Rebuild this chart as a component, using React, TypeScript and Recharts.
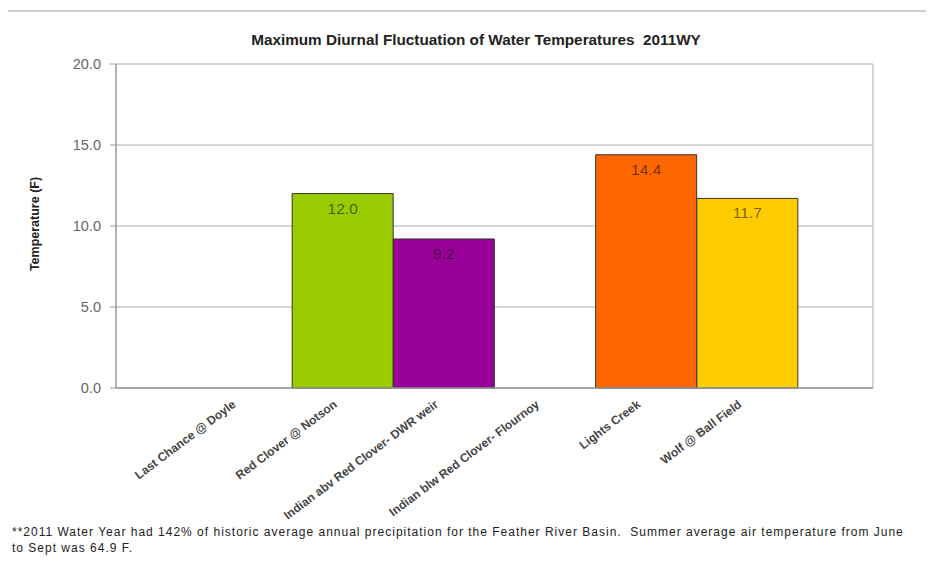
import { Bar, BarChart, CartesianGrid, Cell, LabelList, XAxis, YAxis } from "recharts";

const sites = [
  "Last Chance @ Doyle",
  "Red Clover @ Notson",
  "Indian abv Red Clover- DWR weir",
  "Indian blw Red Clover- Flournoy",
  "Lights Creek",
  "Wolf @ Ball Field"
];
const maxFluctuation: Array<number | null> = [null, 12.0, 9.2, null, 14.4, 11.7];
const barColors = ["#99cc00", "#99cc00", "#990099", "#990099", "#ff6600", "#ffcc00"];
const yTicks = [0, 5, 10, 15, 20];

const data = sites.map((site, i) => ({ site, value: maxFluctuation[i] }));

const font = "'Liberation Sans', Arial, sans-serif";

function SiteTick({ x, y, payload }: any) {
  return (
    <text
      x={x - 5}
      y={y + 10}
      transform={`rotate(-37, ${x - 5}, ${y + 10})`}
      textAnchor="end"
      fontSize={12}
      fontWeight="bold"
      fontFamily={font}
      fill="#444"
    >
      {payload.value}
    </text>
  );
}

export default function App() {
  return (
    <div style={{ position: "relative", width: 934, height: 567, margin: -8, background: "#fff", overflow: "hidden" }}>
      <div
        style={{
          position: "absolute",
          left: 5,
          top: 10,
          width: 960,
          height: 600,
          borderLeft: "2px solid #d0d0d0",
          borderTop: "2px solid #d0d0d0"
        }}
      />
      <div
        style={{
          position: "absolute",
          left: 0,
          width: 952,
          top: 31,
          textAlign: "center",
          fontFamily: font,
          fontWeight: "bold",
          fontSize: 15.3,
          color: "#222"
        }}
      >
        Maximum Diurnal Fluctuation of Water Temperatures&nbsp; 2011WY
      </div>
      <div
        style={{
          position: "absolute",
          left: 35,
          top: 224,
          transform: "translate(-50%, -50%) rotate(-90deg)",
          whiteSpace: "nowrap",
          fontFamily: font,
          fontWeight: "bold",
          fontSize: 12.5,
          color: "#222"
        }}
      >
        Temperature (F)
      </div>
      <div style={{ position: "absolute", left: 0, top: 0 }}>
        <BarChart
          width={934}
          height={567}
          data={data}
          margin={{ top: 64, right: 61, bottom: 79, left: 56 }}
          barCategoryGap={0}
        >
          <CartesianGrid
            stroke="#c8c8c8"
            strokeWidth={1.5}
            verticalCoordinatesGenerator={({ offset }: any) => [offset.left + offset.width]}
          />
          <XAxis
            dataKey="site"
            interval={0}
            padding={{ left: 75, right: 75 }}
            height={100}
            tick={<SiteTick />}
            tickLine={false}
            axisLine={{ stroke: "#999", strokeWidth: 1.5 }}
          />
          <YAxis
            domain={[0, 20]}
            ticks={yTicks}
            width={60}
            tickFormatter={(v: number) => v.toFixed(1)}
            tick={{ fontSize: 14.5, fill: "#666", fontFamily: font }}
            tickSize={6}
            tickMargin={9}
            tickLine={{ stroke: "#999" }}
            axisLine={{ stroke: "#999", strokeWidth: 1.5 }}
          />
          <Bar dataKey="value" stroke="#333" strokeWidth={1} isAnimationActive={false}>
            {data.map((d, i) => (
              <Cell key={d.site} fill={barColors[i]} />
            ))}
            <LabelList
              dataKey="value"
              position="insideTop"
              offset={9}
              fontSize={15.5}
              fontFamily={font}
              fill="#000"
              fillOpacity={0.55}
              formatter={(v: any) => (v == null ? "" : Number(v).toFixed(1))}
            />
          </Bar>
        </BarChart>
      </div>
      <div
        style={{
          position: "absolute",
          left: 12,
          top: 524,
          fontFamily: font,
          fontSize: 12,
          letterSpacing: 1,
          lineHeight: "16px",
          color: "#222",
          whiteSpace: "nowrap"
        }}
      >
        **2011 Water Year had 142% of historic average annual precipitation for the Feather River Basin.&nbsp; Summer average air temperature from June
        <br />
        to Sept was 64.9 F.
      </div>
    </div>
  );
}
